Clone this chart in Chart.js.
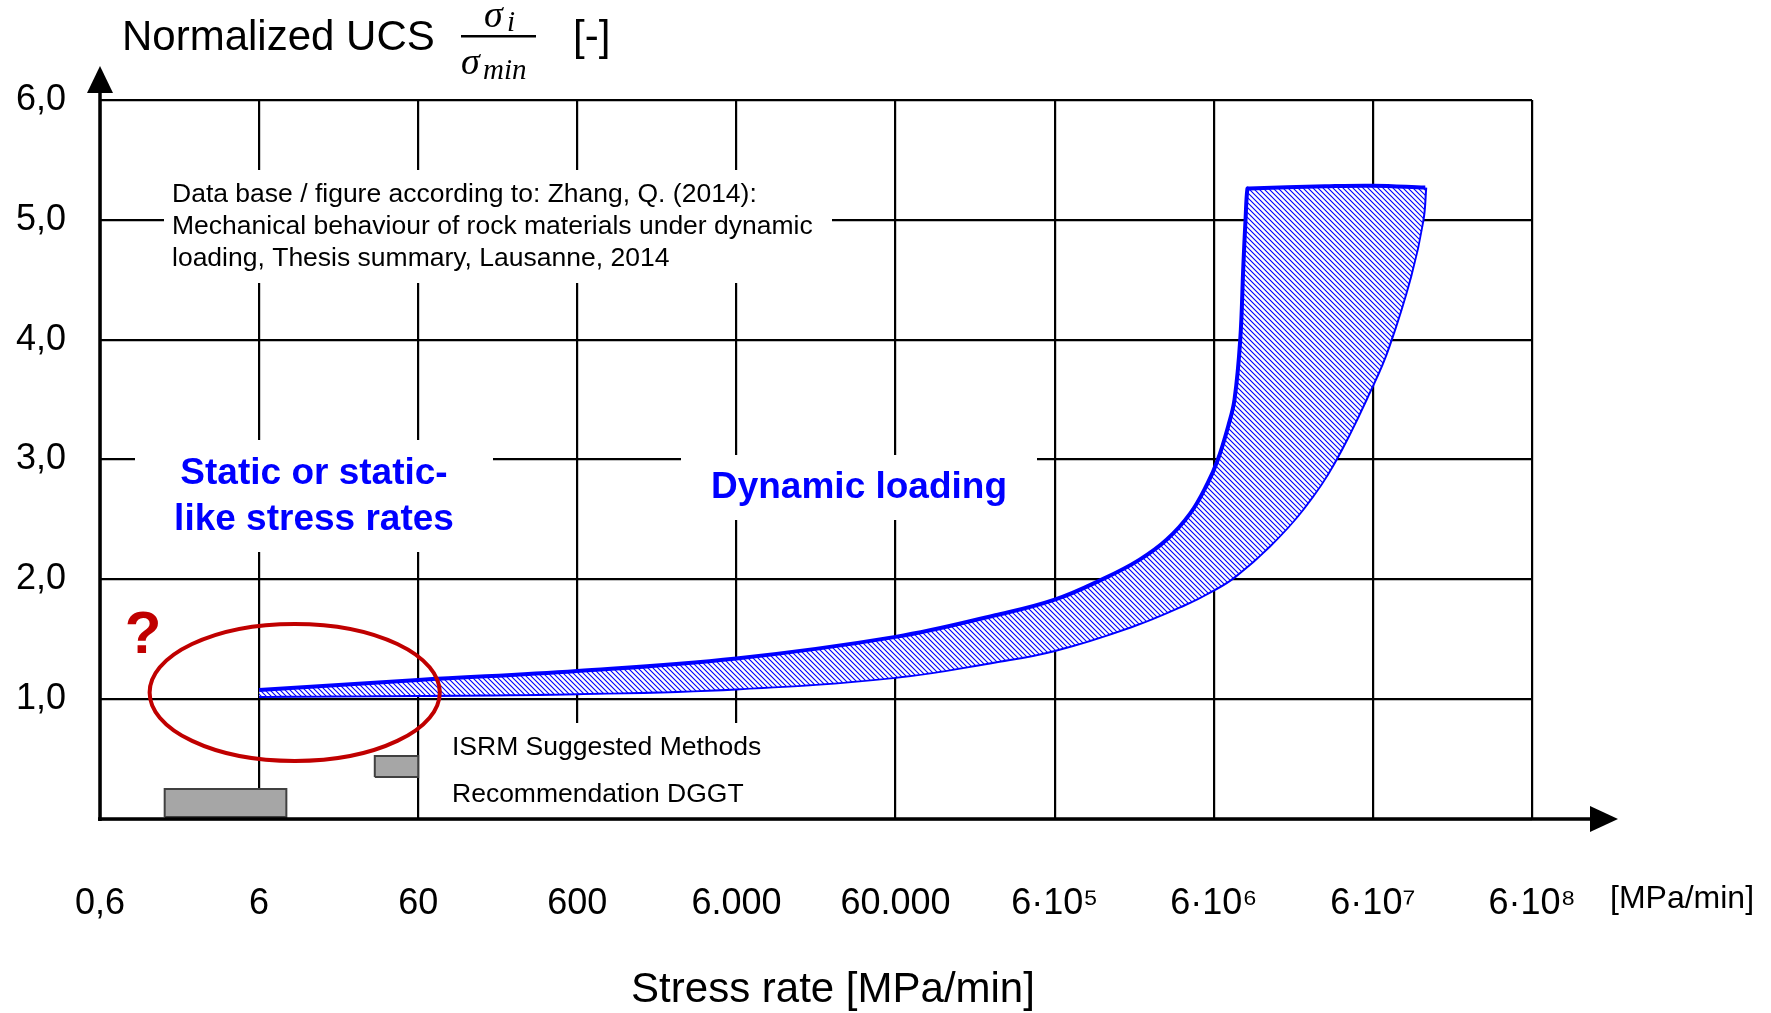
<!DOCTYPE html>
<html>
<head>
<meta charset="utf-8">
<title>Normalized UCS vs. stress rate</title>
<script src="https://cdn.jsdelivr.net/npm/chart.js@4.4.1/dist/chart.umd.min.js"></script>
<style>
  html, body { margin: 0; padding: 0; background: #fff; }
  #wrap { width: 1771px; height: 1013px; position: relative; }
</style>
</head>
<body>
<div id="wrap"><canvas id="ucsChart"></canvas></div>
<script>
// stress rate axis [MPa/min], one grid line per decade
const rateTicks = [0.6, 6, 60, 600, 6000, 60000, 6e5, 6e6, 6e7, 6e8];
const rateLabels = ['0,6', '6', '60', '600', '6.000', '60.000', '6·10⁵', '6·10⁶', '6·10⁷', '6·10⁸'];
const ucsTicks = [0, 1, 2, 3, 4, 5, 6];

// band after Zhang (2014): upper / left edge
const upperRate = [6, 60, 600, 6000, 60000, 2.54e5, 6e5, 1.24e6, 2.03e6, 3.03e6, 4.27e6, 5.48e6, 6.37e6, 7.4e6, 8.1e6, 8.8e6, 9.2e6, 9.5e6, 9.76e6, 1.0e7, 3.0e7, 6.0e7, 1.28e8];
const upperUcs  = [1.077, 1.16, 1.235, 1.34, 1.52, 1.70, 1.83, 2.01, 2.16, 2.33, 2.55, 2.80, 3.0, 3.28, 3.50, 4.0, 4.61, 5.0, 5.26, 5.262, 5.28, 5.285, 5.27];
// lower / right edge
const lowerRate = [6, 60, 600, 6000, 60000, 2.54e5, 6e5, 1.83e6, 3.84e6, 6e6, 8.1e6, 1.34e7, 2.18e7, 3.4e7, 6.0e7, 7.5e7, 1.03e8, 1.23e8, 1.28e8];
const lowerUcs  = [1.027, 1.035, 1.05, 1.09, 1.186, 1.314, 1.41, 1.61, 1.785, 1.915, 2.025, 2.28, 2.59, 2.97, 3.63, 3.94, 4.53, 5.0, 5.27];

// recommended test ranges (grey boxes): [rate from, rate to], [ucs from, ucs to]
const dggtRate = [1.53, 8.9];
const dggtUcs  = [0.017, 0.25];
const isrmRate = [32, 60];
const isrmUcs  = [0.35, 0.526];

// open question region around the static rates
const circleRate = [1.23, 82];
const circleUcs  = [0.484, 1.628];

const SANS = "'Liberation Sans', Arial, sans-serif";
const SERIF = "'Liberation Serif', 'Times New Roman', serif";

function pts(xs, ys) {
  return xs.map((x, i) => ({ x: x, y: ys[i] }));
}

function rectTop(rx, ry) {
  return [{ x: rx[0], y: ry[1] }, { x: rx[1], y: ry[1] }];
}

function rectOutline(rx, ry) {
  return [
    { x: rx[0], y: ry[0] }, { x: rx[0], y: ry[1] },
    { x: rx[1], y: ry[1] }, { x: rx[1], y: ry[0] },
    { x: rx[0], y: ry[0] }
  ];
}

// fine "\\\" hatching used for the band
function makeHatch() {
  const size = 5;
  const c = document.createElement('canvas');
  c.width = size; c.height = size;
  const g = c.getContext('2d');
  g.fillStyle = '#ffffff';
  g.fillRect(0, 0, size, size);
  g.strokeStyle = '#0000ff';
  g.lineWidth = 1.1;
  g.beginPath();
  g.moveTo(-1, -1); g.lineTo(size + 1, size + 1);
  g.moveTo(-1, size - 1); g.lineTo(1, size + 1);
  g.moveTo(size - 1, -1); g.lineTo(size + 1, 1);
  g.stroke();
  return g.createPattern(c, 'repeat');
}

// text boxes on white ground, sitting on top of the grid
const notes = [
  { box: [164, 170, 832, 283], align: 'left', x: 172, ys: [195, 227, 259], font: '26.5px ' + SANS, color: '#000',
    lines: ['Data base / figure according to: Zhang, Q. (2014):',
            'Mechanical behaviour of rock materials under dynamic',
            'loading, Thesis summary, Lausanne, 2014'] },
  { box: [135, 440, 493, 552], align: 'center', x: 314, ys: [474, 520], font: 'bold 37px ' + SANS, color: '#0000ff',
    lines: ['Static or static-', 'like stress rates'] },
  { box: [681, 455, 1037, 520], align: 'center', x: 859, ys: [488], font: 'bold 37px ' + SANS, color: '#0000ff',
    lines: ['Dynamic loading'] },
  { box: [425, 723, 880, 819], align: 'left', x: 452, ys: [748, 795], font: '26.5px ' + SANS, color: '#000',
    lines: ['ISRM Suggested Methods', 'Recommendation DGGT'] }
];

const notesPlugin = {
  id: 'notes',
  beforeDatasetsDraw(chart) {
    const ctx = chart.ctx;
    ctx.save();
    notes.forEach(n => {
      ctx.fillStyle = '#ffffff';
      ctx.fillRect(n.box[0], n.box[1], n.box[2] - n.box[0], n.box[3] - n.box[1]);
      ctx.fillStyle = n.color;
      ctx.font = n.font;
      ctx.textAlign = n.align;
      ctx.textBaseline = 'middle';
      n.lines.forEach((t, i) => ctx.fillText(t, n.x, n.ys[i]));
    });
    ctx.restore();
  }
};

const decorPlugin = {
  id: 'decor',
  afterDatasetsDraw(chart) {
    const ctx = chart.ctx;
    const xs = chart.scales.x, ys = chart.scales.y;
    const area = chart.chartArea;

    // red ellipse + question mark
    const l = xs.getPixelForValue(circleRate[0]), r = xs.getPixelForValue(circleRate[1]);
    const t = ys.getPixelForValue(circleUcs[1]), b = ys.getPixelForValue(circleUcs[0]);
    ctx.save();
    ctx.strokeStyle = '#c00000';
    ctx.lineWidth = 4;
    ctx.beginPath();
    ctx.ellipse((l + r) / 2, (t + b) / 2, (r - l) / 2, (b - t) / 2, 0, 0, Math.PI * 2);
    ctx.stroke();
    ctx.fillStyle = '#c00000';
    ctx.font = 'bold 60px ' + SANS;
    ctx.textAlign = 'center';
    ctx.textBaseline = 'middle';
    ctx.fillText('?', 143, 636);

    // axes with arrow heads
    ctx.strokeStyle = '#000';
    ctx.fillStyle = '#000';
    ctx.lineWidth = 3.5;
    ctx.beginPath();
    ctx.moveTo(area.left, area.bottom + 2);
    ctx.lineTo(area.left, 85);
    ctx.moveTo(area.left - 2, area.bottom);
    ctx.lineTo(1598, area.bottom);
    ctx.stroke();
    ctx.beginPath();
    ctx.moveTo(area.left, 66);
    ctx.lineTo(area.left + 13, 93);
    ctx.lineTo(area.left - 13, 93);
    ctx.closePath();
    ctx.fill();
    ctx.beginPath();
    ctx.moveTo(1618, area.bottom);
    ctx.lineTo(1590, area.bottom - 13);
    ctx.lineTo(1590, area.bottom + 13);
    ctx.closePath();
    ctx.fill();
    ctx.restore();
  },
  afterDraw(chart) {
    const ctx = chart.ctx;
    ctx.save();
    ctx.fillStyle = '#000';
    ctx.textBaseline = 'alphabetic';

    // y axis caption with the fraction sigma_i / sigma_min
    ctx.textAlign = 'left';
    ctx.font = '42px ' + SANS;
    ctx.fillText('Normalized UCS', 122, 50);
    ctx.fillText('[-]', 573, 50);
    ctx.fillRect(461, 35, 75, 2.5);
    ctx.font = 'italic 38px ' + SERIF;
    ctx.fillText('σ', 484, 27);
    ctx.fillText('σ', 461, 74);
    ctx.font = 'italic 29px ' + SERIF;
    ctx.fillText('i', 507, 31);
    ctx.fillText('min', 483, 79);

    // x axis caption and unit
    ctx.textAlign = 'center';
    ctx.textBaseline = 'middle';
    ctx.font = '42px ' + SANS;
    ctx.fillText('Stress rate [MPa/min]', 833, 990);
    ctx.textAlign = 'left';
    ctx.font = '32px ' + SANS;
    ctx.fillText('[MPa/min]', 1610, 899);
    ctx.restore();
  }
};

const hatch = makeHatch();
const gridStyle = { color: '#000', lineWidth: 2.2, drawTicks: false, offset: false };

new Chart(document.getElementById('ucsChart').getContext('2d'), {
  type: 'scatter',
  data: {
    datasets: [
      { data: pts(upperRate, upperUcs), showLine: true, fill: '+1', backgroundColor: hatch,
        borderColor: '#0000ff', borderWidth: 4, pointRadius: 0, tension: 0.4 },
      { data: pts(lowerRate, lowerUcs), showLine: true, fill: false,
        borderColor: '#0000ff', borderWidth: 4, pointRadius: 0, tension: 0.4 },
      { data: rectOutline(dggtRate, dggtUcs), showLine: true, fill: false,
        borderColor: '#404040', borderWidth: 2, pointRadius: 0 },
      { data: rectTop(dggtRate, dggtUcs), showLine: true, fill: { value: dggtUcs[0] },
        backgroundColor: '#a6a6a6', borderWidth: 0, pointRadius: 0 },
      { data: rectOutline(isrmRate, isrmUcs), showLine: true, fill: false,
        borderColor: '#404040', borderWidth: 2, pointRadius: 0 },
      { data: rectTop(isrmRate, isrmUcs), showLine: true, fill: { value: isrmUcs[0] },
        backgroundColor: '#a6a6a6', borderWidth: 0, pointRadius: 0 }
    ]
  },
  options: {
    responsive: true,
    maintainAspectRatio: false,
    animation: false,
    layout: { padding: { left: 0, top: 100, right: 239, bottom: 0 } },
    plugins: {
      legend: { display: false },
      tooltip: { enabled: false },
      title: { display: false }
    },
    scales: {
      x: {
        type: 'logarithmic',
        min: 0.6,
        max: 6e8,
        offset: false,
        afterBuildTicks: s => { s.ticks = rateTicks.map(v => ({ value: v })); },
        afterFit: s => { s.height = 194; },
        grid: gridStyle,
        border: { display: false },
        ticks: {
          autoSkip: false,
          maxRotation: 0,
          padding: 63,
          color: '#000',
          font: { family: SANS, size: 36 },
          callback: (v, i) => rateLabels[i]
        }
      },
      y: {
        type: 'linear',
        min: 0,
        max: 6,
        offset: false,
        afterBuildTicks: s => { s.ticks = ucsTicks.map(v => ({ value: v })); },
        afterFit: s => { s.width = 100; },
        grid: gridStyle,
        border: { display: false },
        ticks: {
          padding: 34,
          color: '#000',
          font: { family: SANS, size: 36 },
          callback: v => v === 0 ? '' : v.toFixed(1).replace('.', ',')
        }
      }
    }
  },
  plugins: [notesPlugin, decorPlugin]
});
</script>
</body>
</html>
